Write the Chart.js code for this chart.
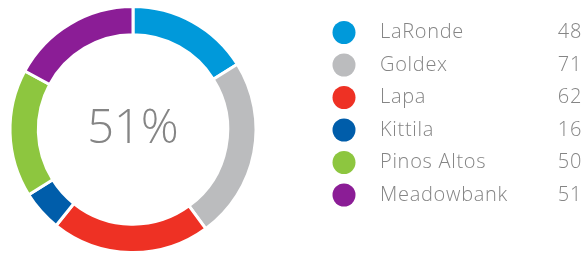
<!DOCTYPE html>
<html>
<head>
<meta charset="utf-8">
<script src="https://cdn.jsdelivr.net/npm/chart.js@4/dist/chart.umd.min.js"></script>
<style>
html,body{margin:0;padding:0;background:#fff;}
#wrap{position:relative;width:584px;height:259px;}
</style>
</head>
<body>
<div id="wrap"><canvas id="c" width="584" height="259"></canvas></div>
<script>
const categories = ["LaRonde", "Goldex", "Lapa", "Kittila", "Pinos Altos", "Meadowbank"];
const values = [48, 71, 62, 16, 50, 51];
const colors = ["#0099DA", "#BBBCBE", "#EE3124", "#005DAA", "#8DC63F", "#8B1D96"];
const centerLabel = "51%";

const textColor = "#858585";

const legendPlugin = {
  id: 'customLegend',
  afterDraw(chart) {
    const ctx = chart.ctx;
    ctx.save();
    const meta = chart.getDatasetMeta(0);
    const arc = meta.data[0];
    const cx = arc.x, cy = arc.y;
    ctx.fillStyle = textColor;
    ctx.font = '300 47px "Open Sans"';
    ctx.textAlign = 'center';
    ctx.textBaseline = 'middle';
    ctx.fillText(centerLabel, cx, cy);
    const x0 = 344, y0 = 32.5, step = 32.5;
    ctx.font = '300 20px "Open Sans"';
    ctx.letterSpacing = '0.7px';
    ctx.textBaseline = 'middle';
    categories.forEach((name, i) => {
      const y = y0 + i * step;
      ctx.beginPath();
      ctx.fillStyle = colors[i];
      ctx.arc(x0, y, 11.5, 0, Math.PI * 2);
      ctx.fill();
      ctx.fillStyle = textColor;
      ctx.textAlign = 'left';
      ctx.fillText(name, 380, y);
      ctx.textAlign = 'right';
      ctx.fillText(String(values[i]), 582, y);
    });
    ctx.restore();
  }
};

new Chart(document.getElementById('c'), {
  type: 'doughnut',
  data: {
    labels: categories,
    datasets: [{
      data: values,
      backgroundColor: colors,
      borderColor: '#ffffff',
      borderWidth: 3,
      hoverOffset: 0
    }]
  },
  options: {
    responsive: false,
    animation: false,
    cutout: '77%',
    layout: { padding: { left: 8, top: 5, right: 326, bottom: 5 } },
    plugins: { legend: { display: false }, tooltip: { enabled: false } }
  },
  plugins: [legendPlugin]
});
</script>
</body>
</html>
